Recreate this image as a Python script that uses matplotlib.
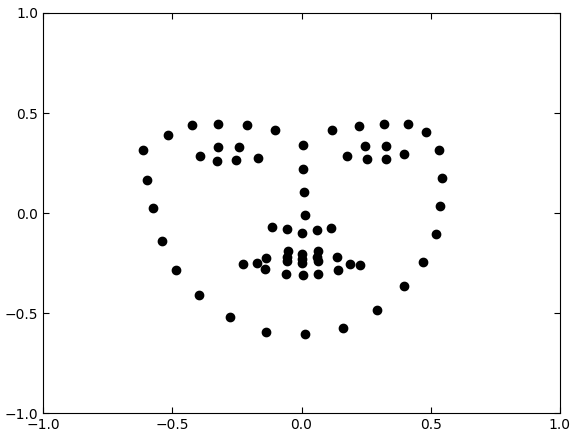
#!/usr/bin/env python
import numpy as np
import matplotlib
matplotlib.use('Agg')
import matplotlib.pyplot as plt

# 68 face landmarks
jaw_x = [-0.613, -0.600, -0.574, -0.542, -0.487, -0.398, -0.278, -0.136, 0.015,
         0.161, 0.292, 0.395, 0.472, 0.522, 0.535, 0.544, 0.531]
jaw_y = [0.313, 0.163, 0.023, -0.140, -0.287, -0.410, -0.520, -0.595, -0.603,
         -0.573, -0.487, -0.365, -0.245, -0.107, 0.035, 0.177, 0.313]

brow_x = [-0.516, -0.426, -0.323, -0.211, -0.101, 0.118, 0.221, 0.318, 0.411, 0.482]
brow_y = [0.390, 0.438, 0.447, 0.438, 0.417, 0.417, 0.435, 0.447, 0.447, 0.405]

nose_x = [0.005, 0.007, 0.011, 0.012, -0.113, -0.055, 0.002, 0.058, 0.116]
nose_y = [0.340, 0.222, 0.107, -0.012, -0.070, -0.082, -0.098, -0.087, -0.073]

eye_x = [-0.394, -0.323, -0.243, -0.168, -0.253, -0.329,
         0.176, 0.244, 0.328, 0.395, 0.328, 0.253]
eye_y = [0.285, 0.330, 0.330, 0.277, 0.263, 0.258,
         0.285, 0.335, 0.335, 0.293, 0.268, 0.268]

mouth_x = [-0.226, -0.136, -0.052, 0.003, 0.062, 0.137, 0.228, 0.141, 0.064, 0.006, -0.062, -0.140,
           -0.174, -0.058, 0.003, 0.060, 0.189, 0.062, 0.003, -0.058]
mouth_y = [-0.257, -0.223, -0.190, -0.203, -0.190, -0.220, -0.262, -0.287, -0.307, -0.312, -0.307, -0.282,
           -0.248, -0.222, -0.232, -0.222, -0.253, -0.240, -0.248, -0.238]

ticks = [-1.0, -0.5, 0.0, 0.5, 1.0]


def MakePlot():
    fig = plt.figure(figsize=(5.7, 4.33), dpi=100)
    ax = fig.add_axes([0.076, 0.046, 0.906, 0.924])
    xs = jaw_x + brow_x + nose_x + eye_x + mouth_x
    ys = jaw_y + brow_y + nose_y + eye_y + mouth_y
    ax.plot(xs, ys, 'o', color='black', markersize=6, linestyle='none')
    ax.set_xlim(-1, 1)
    ax.set_ylim(-1, 1)
    ax.set_xticks(ticks)
    ax.set_yticks(ticks)
    ax.tick_params(direction='in', top=True, right=True, length=4, labelsize=10)
    return fig


fig = MakePlot()
fig.savefig('out.png', dpi=100)
